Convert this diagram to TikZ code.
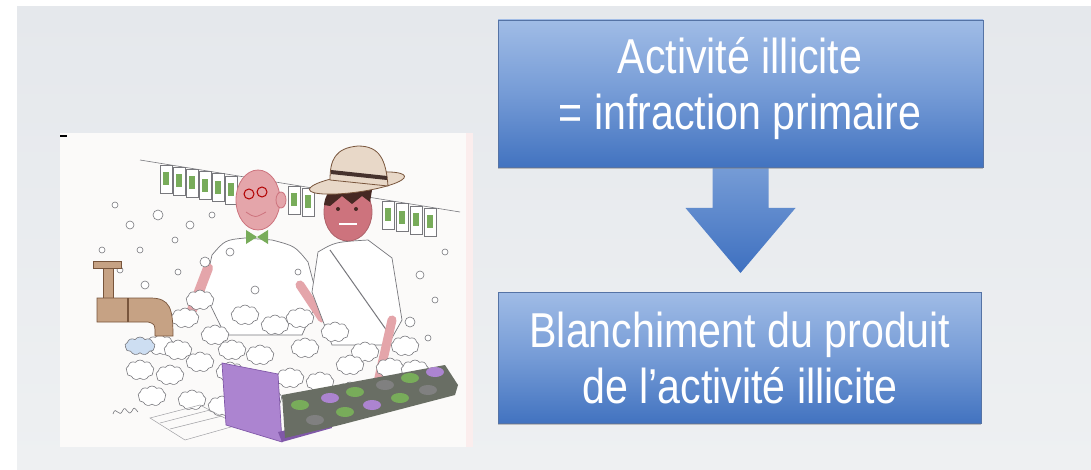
\documentclass[tikz,border=0pt]{standalone}
\usepackage{fontspec}
\newfontfamily\boxfont[FakeStretch=0.84]{Liberation Sans}
\usetikzlibrary{calc,shapes.symbols,shadows}

\definecolor{bgtop}{RGB}{229,232,236}
\definecolor{bgbot}{RGB}{238,240,242}
\definecolor{paper}{RGB}{251,250,249}
\definecolor{boxtop}{RGB}{160,188,230}
\definecolor{boxmid}{RGB}{117,155,214}
\definecolor{boxbot}{RGB}{66,115,192}
\definecolor{boxline}{RGB}{85,115,165}
\definecolor{arrtop}{RGB}{118,156,214}
\definecolor{arrbot}{RGB}{62,112,192}
\definecolor{skin}{RGB}{228,165,170}
\definecolor{skindark}{RGB}{205,115,125}
\definecolor{hatc}{RGB}{232,216,200}
\definecolor{hatband}{RGB}{70,50,45}
\definecolor{hair}{RGB}{70,40,35}
\definecolor{tapc}{RGB}{198,162,132}
\definecolor{tapdark}{RGB}{120,85,60}
\definecolor{laptop}{RGB}{172,132,208}
\definecolor{laptopdark}{RGB}{128,88,168}
\definecolor{notegreen}{RGB}{120,172,90}
\definecolor{money}{RGB}{105,110,100}
\definecolor{ink}{RGB}{120,120,125}
\definecolor{water}{RGB}{205,222,242}

\tikzset{
  flowbox/.style={rectangle, draw=boxline, line width=0.8pt,
    top color=boxtop, bottom color=boxbot, middle color=boxmid,
    drop shadow={shadow xshift=0pt, shadow yshift=-2pt, opacity=0.45}},
  boxtext/.style={text=white, align=center,
    font=\boxfont\fontsize{49}{56}\selectfont, inner sep=0pt},
  bubble/.style={draw=ink, line width=0.6pt, fill=white},
  foam/.style={cloud, cloud puffs=9, cloud puff arc=110, aspect=1.3,
    draw=ink, line width=0.6pt, fill=white, inner sep=0pt,
    minimum width=28pt, minimum height=20pt},
  note/.style={draw=ink, line width=0.5pt, fill=white},
  notecentre/.style={fill=notegreen},
}

\begin{document}
\begin{tikzpicture}[x=1pt, y=-1pt]
\useasboundingbox (0,0) rectangle (1091,470);

% page background
\fill[white] (0,0) rectangle (1091,470);
\shade[top color=bgtop, bottom color=bgbot] (17,7) rectangle (1091,470);

% ---------------- cartoon: laundering money ----------------
\fill[paper] (60,133) rectangle (473,447);
\fill[red!5!paper] (466,133) rectangle (473,447);
\draw[line width=1.4pt] (60,136) -- (67,136);

% clothesline with banknotes
\draw[ink, line width=0.6pt] (140,160) -- (460,212);
\foreach \x in {160,173,186,199,212,225, 288,302, 382,396,410,424} {
  \pgfmathsetmacro{\yy}{160+0.1625*(\x-140)}
  \draw[note] (\x,\yy+2) rectangle (\x+12,\yy+30);
  \fill[notecentre] (\x+3,\yy+9) rectangle (\x+9,\yy+22);
}

% bald man: body, head, glasses, bow tie
\draw[ink, fill=white, line width=0.7pt]
  (212,255) .. controls (225,240) .. (245,238) -- (272,240)
  .. controls (295,246) .. (308,262) -- (318,300) -- (302,335)
  -- (225,335) -- (204,292) -- cycle;
\draw[skin, line width=10pt, line cap=round] (208,268) -- (192,310);
\draw[skin, line width=9pt, line cap=round] (300,285) -- (322,318);
\draw[skindark, fill=skin, line width=0.8pt] (258,200) ellipse [x radius=22, y radius=30];
\draw[skindark, fill=skin, line width=0.8pt] (281,200) ellipse [x radius=5, y radius=8];
\draw[red!70!black, line width=1pt] (249,194) circle [radius=5] (262,192) circle [radius=5];
\draw[skindark, line width=0.8pt] (246,212) .. controls (255,218) .. (266,212);
\fill[notegreen] (257,237) -- (246,230) -- (246,244) -- cycle
                 (257,237) -- (268,230) -- (268,244) -- cycle;

% man with hat: body, face, hat
\draw[ink, fill=white, line width=0.7pt]
  (318,252) .. controls (335,242) .. (368,240) -- (392,258)
  -- (402,320) -- (388,345) -- (332,345) -- (312,292) -- cycle;
\draw[ink, line width=1pt] (330,250) -- (392,338);
\draw[skin, line width=9pt, line cap=round] (392,320) -- (378,382);
\draw[hair, line width=3pt, line cap=round] (376,386) -- (370,412);
\draw[skindark!85!black, fill=skindark, line width=0.8pt] (348,212) ellipse [x radius=24, y radius=29];
\fill[hair] (324,205) .. controls (326,185) and (345,178) .. (372,190)
  -- (370,202) -- (362,196) -- (352,204) -- (342,196) -- (330,206) -- cycle;
\fill[hair] (338,209) circle [radius=2] (356,209) circle [radius=2];
\draw[white, line width=2pt] (339,224) -- (357,224);
\draw[tapdark, fill=hatc, line width=0.8pt, rotate around={8:(357,183)}]
  (357,183) ellipse [x radius=48, y radius=9];
\draw[tapdark, fill=hatc, line width=0.8pt]
  (330,180) .. controls (330,160) and (335,148) .. (358,146)
  .. controls (380,146) and (386,160) .. (388,186) -- cycle;
\draw[hatband, line width=4pt] (331,172) -- (387,178);

% soap bubbles
\foreach \x/\y/\r in {115/205/3, 130/225/4, 140/250/3, 158/215/5, 175/240/3,
    190/225/4, 205/262/5, 120/270/3, 145/285/4, 178/272/3, 212/215/3,
    230/252/4, 420/275/4, 435/300/3, 410/322/5, 445/252/3, 255/290/4,
    298/272/3, 428/338/3, 102/250/3}{
  \draw[bubble] (\x,\y) circle [radius=\r];
}

% foam
\foreach \x/\y in {160/345, 185/318, 215/335, 245/315, 275/325, 305/348,
    335/332, 365/352, 390/368, 170/375, 200/362, 230/372, 260/355,
    290/378, 320/382, 350/392, 380/396, 192/400, 222/406, 152/396,
    405/346, 268/398, 200/300, 232/350, 300/318, 350/365, 178/350,
    140/370, 250/385, 415/370}{
  \node[foam] at (\x,\y) {};
}

% keyboard grid under the foam
\draw[ink!70, line width=0.5pt] (150,418) -- (200,405) -- (238,425) -- (185,440) -- cycle;
\draw[ink!70, line width=0.5pt] (160,423) -- (210,410) (170,429) -- (222,416);

% tap
\fill[tapc] (93,261) rectangle (121,268);
\fill[tapc] (103,268) rectangle (113,298);
\draw[tapdark, line width=0.6pt] (93,261) rectangle (121,268) (103,268) rectangle (113,298);
\draw[tapdark, fill=tapc, line width=0.7pt]
  (97,298) -- (150,298) .. controls (170,298) and (173,308) .. (173,336)
  -- (155,336) .. controls (155,324) .. (148,322) -- (97,322) -- cycle;
\draw[tapdark, line width=2pt] (128,298) -- (128,322);
\node[foam, fill=water, minimum width=30pt, minimum height=18pt] at (140,346) {};

% laptop
\draw[laptopdark, fill=laptop, line width=0.7pt]
  (222,363) -- (278,374) -- (282,442) -- (226,425) -- cycle;
\fill[laptopdark] (278,432) -- (330,420) -- (332,428) -- (282,442) -- cycle;

% stacks of banknotes
\fill[money] (282,395) -- (445,365) -- (458,385) -- (455,395) -- (340,425) -- (285,438) -- cycle;
\foreach \x/\y/\c in {300/405/notegreen, 330/398/laptop, 355/392/notegreen,
    385/385/gray, 410/378/notegreen, 435/372/laptop, 315/420/gray,
    345/412/notegreen, 372/405/laptop, 400/398/notegreen, 428/390/gray}{
  \fill[\c] (\x,\y) ellipse [x radius=9, y radius=5];
}

% signature
\draw[ink, line width=0.6pt] (113,414) .. controls (116,404) and (119,420) .. (123,410)
  .. controls (126,404) and (128,418) .. (132,411) .. controls (134,407) .. (138,412);

% ---------------- flow: offence -> laundering ----------------
\coordinate (b1s) at (740.5,167);
\coordinate (b2n) at (740.5,292);
\shade[top color=arrtop, bottom color=arrbot]
  ($(b1s)+(-28,0)$) -- ($(b1s)+(28,0)$) -- ($(b1s)+(28,41)$) -- ($(b1s)+(55,41)$)
  -- ($(b2n)+(0,-19)$) -- ($(b1s)+(-55,41)$) -- ($(b1s)+(-28,41)$) -- cycle;

\node[flowbox, minimum width=485pt, minimum height=147pt] (b1) at (740.5,93.5) {};
\node[flowbox, minimum width=483pt, minimum height=131pt] (b2) at (739.5,357.5) {};

\node[boxtext, anchor=base] (t1) at (740,130) {Activité illicite\\= infraction primaire};
\node[boxtext, anchor=base] (t2) at (740,403) {Blanchiment du produit\\de l’activité illicite};
\end{tikzpicture}
\end{document}
